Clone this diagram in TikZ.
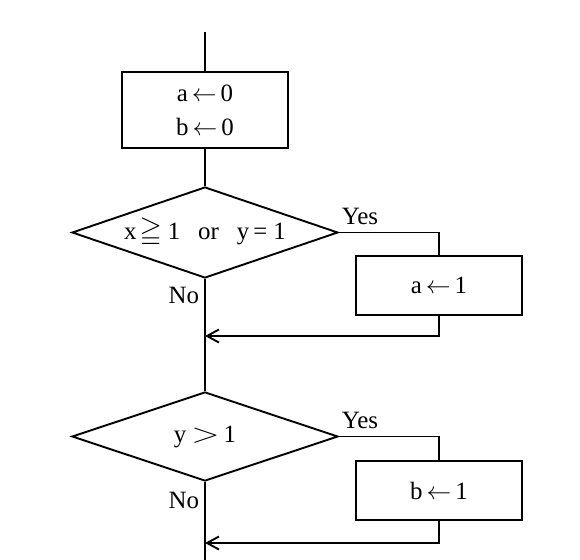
\documentclass[tikz,border=0pt]{standalone}
\usepackage{amssymb}
\usepackage{graphicx}
\usepackage{fontspec}
\setmainfont{Liberation Serif}
\usetikzlibrary{shapes.geometric,arrows.meta}
\newcommand{\asg}{\hspace{4bp}$\leftarrow$\hspace{4bp}}
\begin{document}
\begin{tikzpicture}[x=1bp,y=-1bp,
  font=\fontsize{25}{30}\selectfont,
  line width=1.9bp,
  proc/.style={draw, rectangle, minimum width=166bp, minimum height=59bp, inner sep=0pt},
  dec/.style={draw, diamond, aspect=2.9, minimum width=266bp, minimum height=90bp, inner sep=0pt},
  flow/.style={-{Straight Barb[length=12bp,width=13bp,line width=1.9bp]}},
  lab/.style={inner sep=0pt}]
\useasboundingbox (0,0) rectangle (580,560);
\fill[white] (0,0) rectangle (580,560);
% nodes
\coordinate (start) at (205,32);
\node[proc, minimum height=76bp, align=center] (init) at (205,110)
  {a\asg 0\\[4bp]b\asg 0};
\node[dec, minimum height=91bp] (d1) at (205,232.5)
  {x\hspace{3bp}\scalebox{1.15}{$\geqq$}\hspace{6bp}1\hspace{18bp}or\hspace{18bp}y\hspace{4bp}=\hspace{6bp}1};
\node[proc] (seta) at (439,285.5) {a\asg 1};
\coordinate (m1) at (205,336);
\node[dec, minimum height=89bp] (d2) at (205,436.5) {y\hspace{5bp}\scalebox{1.5}[1.1]{$>$}\hspace{4bp}1};
\node[proc] (setb) at (439,490.5) {b\asg 1};
\coordinate (m2) at (205,543);
\coordinate (end) at (205,560);
% labels
\node[lab, anchor=base west] (yes1) at ([shift={(2,-8)}]d1.east) {Yes};
\node[lab, anchor=base east] (no1) at ([shift={(-5,25)}]d1.south) {No};
\node[lab, anchor=base west] (yes2) at ([shift={(2,-8)}]d2.east) {Yes};
\node[lab, anchor=base east] (no2) at ([shift={(-5,27)}]d2.south) {No};
% connectors
\draw (start) -- (init.north);
\draw (init.south) -- (d1.north);
\draw (d1.east) -| (seta.north);
\draw[flow] (seta.south) |- (m1);
\draw (d1.south) -- (d2.north);
\draw (d2.east) -| (setb.north);
\draw[flow] (setb.south) |- (m2);
\draw (d2.south) -- (end);
\end{tikzpicture}
\end{document}
